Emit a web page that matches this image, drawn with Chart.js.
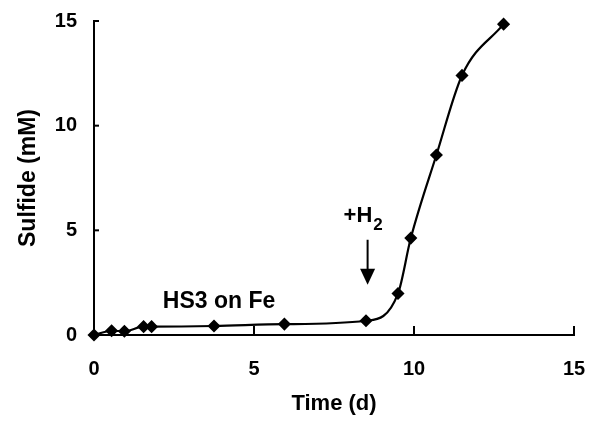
<!DOCTYPE html>
<html>
<head>
<meta charset="utf-8">
<script src="https://cdn.jsdelivr.net/npm/chart.js@4/dist/chart.umd.min.js"></script>
<style>
  html, body { margin: 0; padding: 0; background: #fff; }
  #wrap { width: 590px; height: 421px; }
</style>
</head>
<body>
<div id="wrap"><canvas id="sulfideChart"></canvas></div>
<script>
  // time in days, sulfide in mM
  const timeDays = [0, 0.55, 0.95, 1.55, 1.8, 3.75, 5.95, 8.5, 9.5, 9.9, 10.7, 11.5, 12.8];
  const sulfideMM = [0, 0.2, 0.18, 0.4, 0.4, 0.43, 0.52, 0.68, 1.98, 4.63, 8.6, 12.4, 14.85];
  const tickValues = [0, 5, 10, 15];

  const points = timeDays.map((t, i) => ({ x: t, y: sulfideMM[i] }));
  const FONT = '"Liberation Sans", Arial, sans-serif';

  // inward tick marks + annotation text/arrow
  const extras = {
    id: 'extras',
    afterDraw(chart) {
      const c = chart.ctx;
      const xs = chart.scales.x, ys = chart.scales.y;
      c.save();
      c.strokeStyle = '#000';
      c.lineWidth = 2;
      tickValues.forEach(v => {
        const px = xs.getPixelForValue(v);
        c.beginPath(); c.moveTo(px, ys.bottom); c.lineTo(px, ys.bottom - 9); c.stroke();
        const py = ys.getPixelForValue(v);
        c.beginPath(); c.moveTo(xs.left, py); c.lineTo(xs.left + 5, py); c.stroke();
      });

      c.fillStyle = '#000';
      c.font = 'bold 23px ' + FONT;
      c.textBaseline = 'alphabetic';
      c.textAlign = 'left';
      c.fillText('HS3 on Fe', xs.getPixelForValue(2.15), ys.getPixelForValue(1.3));

      // +H2 label
      const hx = xs.getPixelForValue(7.8);
      const hy = ys.getPixelForValue(5.4);
      c.font = 'bold 22px ' + FONT;
      c.fillText('+H', hx, hy);
      const w = c.measureText('+H').width;
      c.font = 'bold 17px ' + FONT;
      c.fillText('2', hx + w + 1, hy + 8);

      // arrow
      const ax = xs.getPixelForValue(8.55);
      const ay0 = ys.getPixelForValue(4.55);
      const ay1 = ys.getPixelForValue(2.4);
      c.beginPath(); c.moveTo(ax, ay0); c.lineTo(ax, ay1 - 12); c.stroke();
      c.beginPath();
      c.moveTo(ax - 7.5, ay1 - 16);
      c.lineTo(ax + 7.5, ay1 - 16);
      c.lineTo(ax, ay1);
      c.closePath();
      c.fill();
      c.restore();
    }
  };

  new Chart(document.getElementById('sulfideChart'), {
    type: 'scatter',
    data: {
      datasets: [{
        data: points,
        showLine: true,
        borderColor: '#000',
        backgroundColor: '#000',
        borderWidth: 2.2,
        pointStyle: 'rectRot',
        pointRadius: 5,
        cubicInterpolationMode: 'monotone',
        clip: false
      }]
    },
    options: {
      responsive: true,
      maintainAspectRatio: false,
      animation: false,
      layout: { padding: { left: 0, right: 16, top: 21, bottom: 0 } },
      plugins: { legend: { display: false }, tooltip: { enabled: false } },
      scales: {
        x: {
          type: 'linear',
          min: 0, max: 15,
          afterFit(s) { s.height = 86; },
          afterBuildTicks(s) { s.ticks = tickValues.map(v => ({ value: v })); },
          // tick marks are invisible here; their length just spaces the labels
          grid: { display: true, drawOnChartArea: false, tickLength: 22, tickColor: 'rgba(0,0,0,0)' },
          border: { display: true, color: '#000', width: 2 },
          ticks: { color: '#000', padding: 0, maxRotation: 0, font: { family: FONT, size: 20, weight: 'bold' } },
          title: { display: true, text: 'Time (d)', color: '#000', padding: { top: 10 }, font: { family: FONT, size: 22, weight: 'bold' } }
        },
        y: {
          min: 0, max: 15,
          afterFit(s) { s.width = 94; },
          afterBuildTicks(s) { s.ticks = tickValues.map(v => ({ value: v })); },
          grid: { display: true, drawOnChartArea: false, tickLength: 17, tickColor: 'rgba(0,0,0,0)' },
          border: { display: true, color: '#000', width: 2 },
          ticks: { color: '#000', padding: 0, font: { family: FONT, size: 20, weight: 'bold' } },
          title: { display: true, text: 'Sulfide (mM)', color: '#000', padding: { top: 15, bottom: 0 }, font: { family: FONT, size: 23, weight: 'bold' } }
        }
      }
    },
    plugins: [extras]
  });
</script>
</body>
</html>
